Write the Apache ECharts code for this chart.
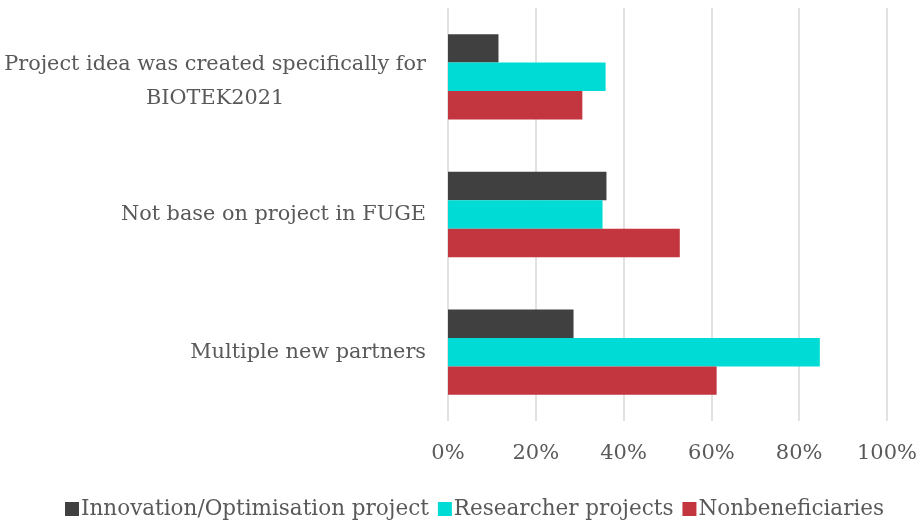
<!DOCTYPE html>
<html>
<head>
<meta charset="utf-8">
<script src="https://cdn.jsdelivr.net/npm/echarts@6/dist/echarts.min.js"></script>
<style>
  html, body { margin: 0; padding: 0; background: #fff; }
  #chart { width: 920px; height: 520px; }
</style>
</head>
<body>
<div id="chart"></div>
<script>
// categories, top to bottom
var categories = [
  'Project idea was created specifically for\nBIOTEK2021',
  'Not base on project in FUGE',
  'Multiple new partners'
]
// values in percent
var innovation = [11.5, 36.1, 28.6]
var researcher = [35.9, 35.2, 84.7]
var nonbenef = [30.6, 52.8, 61.2]
var seriesNames = ['Innovation/Optimisation project', 'Researcher projects', 'Nonbeneficiaries']

var FONT = 'DejaVu Serif'
var GREY = '#595959'

var chart = echarts.init(document.getElementById('chart'))

function bar (name, data, color) {
  return {
    name: name,
    type: 'bar',
    data: data,
    barGap: '0%',
    barCategoryGap: '38%',
    itemStyle: { color: color },
    animation: false
  }
}

chart.setOption({
  textStyle: { fontFamily: FONT },
  grid: { left: 448, right: 31, top: 8, bottom: 99 },
  legend: {
    top: 493,
    left: 60,
    icon: 'rect',
    itemWidth: 14,
    itemHeight: 14,
    itemGap: 9,
    data: seriesNames,
    textStyle: { fontFamily: FONT, fontSize: 21.5, color: GREY, padding: [0, 0, 0, -3] }
  },
  xAxis: {
    type: 'value',
    min: 0,
    max: 100,
    interval: 20,
    axisLine: { show: false },
    axisTick: { show: false },
    splitLine: { lineStyle: { color: '#d9d9d9', width: 1.5 } },
    axisLabel: {
      margin: 22,
      fontFamily: FONT,
      fontSize: 21,
      color: GREY,
      formatter: '{value}%'
    }
  },
  yAxis: {
    type: 'category',
    inverse: true,
    data: categories,
    axisLine: { show: false },
    axisTick: { show: false },
    axisLabel: {
      margin: 22,
      formatter: function (v) {
        var lines = v.split('\n').map(function (l) { return '{c|' + l + '}' })
        if (lines.length > 1) lines.unshift('{s| }')
        return lines.join('\n')
      },
      rich: {
        c: { align: 'center', fontFamily: FONT, fontSize: 20.8, color: GREY, lineHeight: 34 },
        s: { fontSize: 4, lineHeight: 10 }
      }
    }
  },
  series: [
    bar(seriesNames[0], innovation, '#404040'),
    bar(seriesNames[1], researcher, '#00dcd5'),
    bar(seriesNames[2], nonbenef, '#c3353f')
  ]
})
</script>
</body>
</html>
